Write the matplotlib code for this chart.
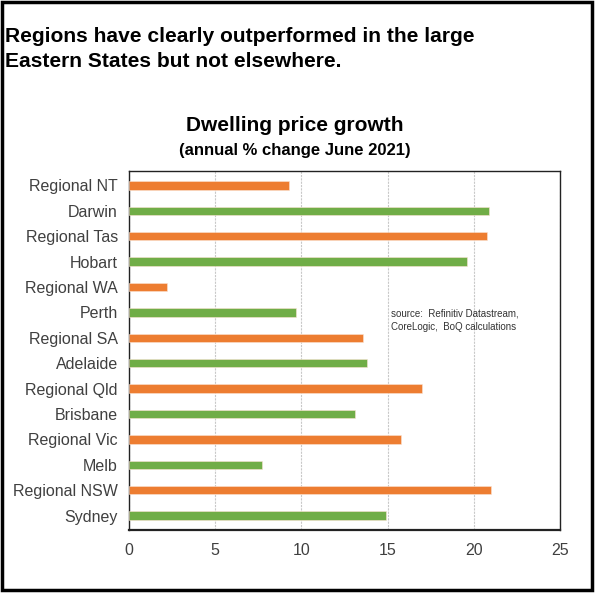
import matplotlib
matplotlib.use("Agg")
import matplotlib.pyplot as plt
from matplotlib.patches import Rectangle

# annual % change in dwelling prices, June 2021 (top to bottom)
places = ["Regional NT", "Darwin", "Regional Tas", "Hobart", "Regional WA", "Perth",
          "Regional SA", "Adelaide", "Regional Qld", "Brisbane", "Regional Vic", "Melb",
          "Regional NSW", "Sydney"]
growth = [9.3, 20.9, 20.8, 19.6, 2.2, 9.7, 13.6, 13.8, 17.0, 13.1, 15.8, 7.7, 21.0, 14.9]
is_region = [p.startswith("Regional") for p in places]
x_ticks = [0, 5, 10, 15, 20, 25]

ORANGE = "#ED7D31"
GREEN = "#70AD47"

plt.rcParams["font.family"] = ["Liberation Sans", "DejaVu Sans"]

fig = plt.figure(figsize=(5.96, 5.97), dpi=100)

# outer frame around the whole panel
fig.patches.append(Rectangle((0.004, 0.012), 0.99, 0.984, transform=fig.transFigure,
                             fill=False, lw=2.5, ec="black"))

# multi-line baseline alignment anchors the last line
fig.text(0.008, 0.888, "Regions have clearly outperformed in the large\nEastern States but not elsewhere.",
         weight="bold", fontsize=15.1, va="baseline", linespacing=1.4)

ax = fig.add_axes([0.2164, 0.113, 0.723, 0.600])

ypos = list(range(len(places)))[::-1]
colors = [ORANGE if r else GREEN for r in is_region]
ax.barh(ypos, growth, height=0.33, color=colors, edgecolor="#fbe3d3", linewidth=0.4, zorder=3)

ax.set_xlim(0, 25)
ax.set_ylim(-0.55, len(places) - 0.45)
ax.set_xticks(x_ticks)
ax.set_yticks(ypos)
ax.set_yticklabels(places)
ax.tick_params(axis="both", length=0, colors="#404040", labelsize=11.5)
ax.tick_params(axis="x", pad=10)
ax.tick_params(axis="y", pad=8)
ax.grid(axis="x", color="#c8c8c8", linestyle=(0, (2, 1)), lw=0.8, zorder=0)

for side in ["top", "right", "left"]:
    ax.spines[side].set_color("#222222")
    ax.spines[side].set_linewidth(1.0)
ax.spines["bottom"].set_color("#222222")
ax.spines["bottom"].set_linewidth(1.6)

fig.text(0.495, 0.780, "Dwelling price growth", ha="center", va="baseline",
         fontsize=15, weight="bold")
fig.text(0.495, 0.741, "(annual % change June 2021)", ha="center", va="baseline",
         fontsize=12, weight="bold")

ax.text(15.2, 7.68, "source:  Refinitiv Datastream,\nCoreLogic,  BoQ calculations",
        fontsize=7, color="#333333", va="center", linespacing=1.5)

fig.savefig("out.png", dpi=100)
